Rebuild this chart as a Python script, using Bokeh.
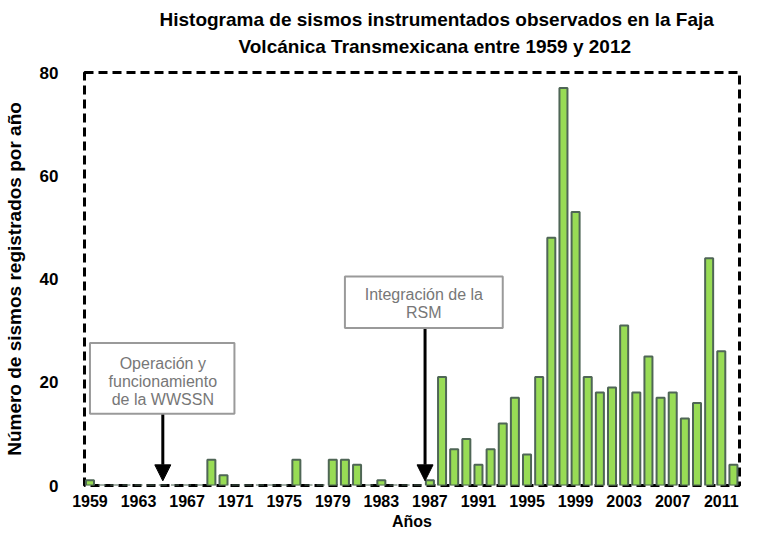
from bokeh.plotting import figure
from bokeh.models import (FixedTicker, Title, BoxAnnotation, Label, Arrow,
                          NormalHead, Range1d)
from bokeh.embed import file_html
from bokeh.resources import INLINE

# ---- data ----
years = list(range(1959, 2013))
counts = [1, 0, 0, 0, 0, 0, 0, 0, 0, 0,      # 1959-1968
          5, 2, 0, 0, 0, 0, 0, 5, 0, 0,      # 1969-1978
          5, 5, 4, 0, 1, 0, 0, 0, 1, 21,     # 1979-1988
          7, 9, 4, 7, 12, 17, 6, 21, 48, 77, # 1989-1998
          53, 21, 18, 19, 31, 18, 25, 17, 18, 13,  # 1999-2008
          16, 44, 26, 4]                     # 2009-2012
x_ticks = [1959, 1963, 1967, 1971, 1975, 1979, 1983, 1987, 1991, 1995,
           1999, 2003, 2007, 2011]
y_ticks = [0, 20, 40, 60, 80]

title_1 = "Histograma de sismos instrumentados observados en la Faja"
title_2 = "Volcánica Transmexicana entre 1959 y 2012"
x_label = "Años"
y_label = "Número de sismos registrados por año"

note_1_lines = ["Operación y", "funcionamiento", "de la WWSSN"]
note_1_year = 1965
note_2_lines = ["Integración de la", "RSM"]
note_2_year = 1986.6

FONT = "Liberation Sans"

p = figure(width=743, height=532, output_backend="svg", toolbar_location=None,
           x_range=Range1d(1958.55, 2012.5), y_range=Range1d(0, 80),
           min_border_left=76, min_border_right=4, min_border_top=72,
           min_border_bottom=0)

p.vbar(x=years, top=counts, width=0.66, fill_color="#98DC55",
       line_color="#4F6656", line_width=2)

# axes
p.xgrid.visible = False
p.ygrid.visible = False
p.outline_line_color = "black"
p.outline_line_width = 3
p.outline_line_dash = "9 5"

for ax in (p.xaxis[0], p.yaxis[0]):
    ax.axis_line_color = None
    ax.major_tick_line_color = None
    ax.minor_tick_line_color = None
    ax.major_label_text_font = FONT
    ax.major_label_text_font_style = "bold"
    ax.major_label_text_color = "black"
    ax.axis_label_text_font = FONT
    ax.axis_label_text_font_style = "bold"
    ax.axis_label_text_color = "black"

p.xaxis.ticker = FixedTicker(ticks=x_ticks)
p.yaxis.ticker = FixedTicker(ticks=y_ticks)
p.xaxis.major_label_text_font_size = "16px"
p.yaxis.major_label_text_font_size = "17px"
p.xaxis.major_label_standoff = 3
p.yaxis.major_label_standoff = 20
p.xaxis.axis_label = x_label
p.yaxis.axis_label = y_label
p.xaxis.axis_label_text_font_size = "16px"
p.yaxis.axis_label_text_font_size = "19px"
p.xaxis.axis_label_standoff = 3
p.yaxis.axis_label_standoff = 12

# two-line title (second line added first so it sits closest to the plot)
t2 = Title(text=title_2, align="left", vertical_align="top", text_font=FONT,
           text_font_size="19px", text_font_style="bold", text_color="black",
           offset=154, standoff=28)
t1 = Title(text=title_1, align="left", text_font=FONT, text_font_size="19px",
           text_font_style="bold", text_color="black", offset=75, standoff=-16)
p.add_layout(t2, "above")
p.add_layout(t1, "above")

# annotation boxes
box_style = dict(fill_color="white", fill_alpha=1.0, line_color="#9A9A9A",
                 line_width=2, line_alpha=1.0, level="overlay")
p.add_layout(BoxAnnotation(left=1959.0, right=1970.9, bottom=13.9, top=27.6,
                           **box_style))
p.add_layout(BoxAnnotation(left=1980.0, right=1993.0, bottom=30.5, top=40.5,
                           **box_style))

lab_style = dict(text_font=FONT, text_font_size="16px", text_color="#777777",
                 text_align="center", text_baseline="middle", level="overlay")
for txt, yy in zip(note_1_lines, [23.7, 20.2, 16.6]):
    p.add_layout(Label(x=note_1_year, y=yy, text=txt, **lab_style))
for txt, yy in zip(note_2_lines, [37.0, 33.5]):
    p.add_layout(Label(x=(1980.0 + 1993.0) / 2, y=yy, text=txt, **lab_style))

# arrows
head = dict(size=16, fill_color="black", line_color="black", line_width=1)
p.add_layout(Arrow(end=NormalHead(**head), x_start=note_1_year, y_start=13.9,
                   x_end=note_1_year, y_end=0.9, line_width=3,
                   line_color="black"))
p.add_layout(Arrow(end=NormalHead(**head), x_start=note_2_year, y_start=30.5,
                   x_end=note_2_year, y_end=0.9, line_width=3,
                   line_color="black"))

open("out.html", "w").write(file_html(p, INLINE))
